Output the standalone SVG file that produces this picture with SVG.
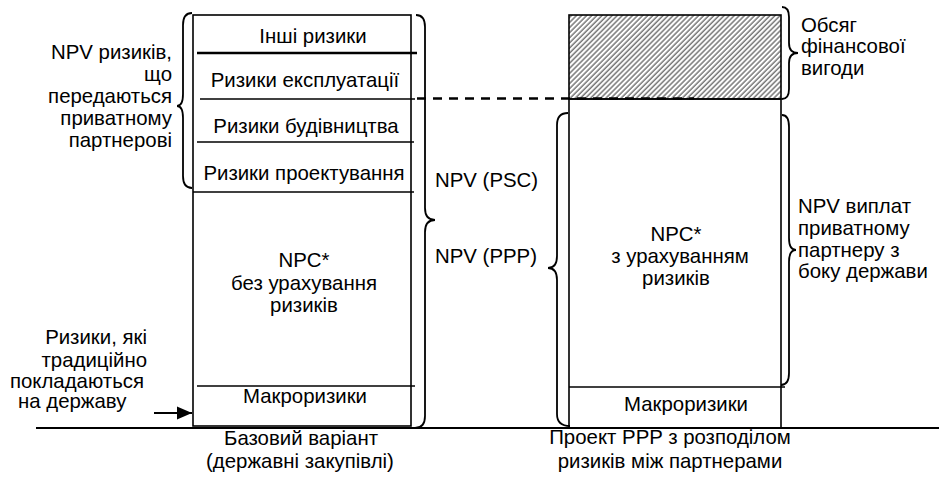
<svg xmlns="http://www.w3.org/2000/svg" width="939" height="491" viewBox="0 0 939 491">
<style>
text{font-family:"Liberation Sans",Arial,sans-serif;font-size:20.4px;fill:#000}
.c{text-anchor:middle}
.e{text-anchor:end}
.box{fill:none;stroke:#000;stroke-width:1.6}
.ln{stroke:#000;stroke-width:1.6;fill:none}
.brace{fill:none;stroke:#000;stroke-width:1.8}
</style>
<defs>
<pattern id="hatch" width="3.6" height="3.6" patternUnits="userSpaceOnUse" patternTransform="rotate(45)">
<rect width="3.6" height="3.6" fill="#fff"/>
<line x1="1" y1="0" x2="1" y2="3.6" stroke="#333" stroke-width="1"/>
</pattern>
<marker id="arr" markerWidth="15" markerHeight="14" refX="15" refY="7" orient="auto" markerUnits="userSpaceOnUse">
<path d="M0,0.5 L15,7 L0,13.5 Z" fill="#000"/>
</marker>
</defs>
<rect width="939" height="491" fill="#fff"/>

<g id="ground">
<line x1="36" y1="428" x2="939" y2="428" stroke="#000" stroke-width="2"/>
</g>

<g id="base-column">
<rect class="box" x="193" y="15" width="218" height="411"/>
<line x1="197" y1="53" x2="417" y2="53" stroke="#000" stroke-width="2.6"/>
<line class="ln" x1="200" y1="99" x2="415" y2="99"/>
<line class="ln" x1="197" y1="142" x2="414" y2="142"/>
<line class="ln" x1="193" y1="192" x2="414" y2="192"/>
<line class="ln" x1="197" y1="386" x2="415" y2="386"/>
<text class="c" x="313" y="43">Інші ризики</text>
<text class="c" x="305" y="87">Ризики експлуатації</text>
<text class="c" x="306" y="133">Ризики будівництва</text>
<text class="c" x="304" y="180">Ризики проектування</text>
<text class="c" x="304" y="267">NPC*</text>
<text class="c" x="304" y="290">без урахування</text>
<text class="c" x="304" y="312">ризиків</text>
<text class="c" x="305" y="403">Макроризики</text>
</g>

<g id="ppp-column">
<rect x="569" y="15" width="212" height="84" fill="url(#hatch)" stroke="#000" stroke-width="1.6"/>
<rect class="box" x="569" y="99" width="212" height="329"/>
<line class="ln" x1="569" y1="387" x2="785" y2="387"/>
<text class="c" x="676" y="241">NPC*</text>
<text class="c" x="680" y="263">з урахуванням</text>
<text class="c" x="676" y="285">ризиків</text>
<text class="c" x="686" y="411">Макроризики</text>
</g>

<g id="label-transferred">
<path class="brace" d="M192,13 Q183,13 183,25 V94 Q183,106 177,106 Q183,106 183,118 V176 Q183,188 192,188"/>
<text class="e" x="172" y="59">NPV ризиків,</text>
<text class="e" x="172" y="81">що</text>
<text class="e" x="172" y="103">передаються</text>
<text class="e" x="172" y="125">приватному</text>
<text class="e" x="172" y="147">партнерові</text>
</g>

<g id="label-psc-ppp">
<path class="brace" d="M416,15 Q425,15 425,27 V208 Q425,220 435,220 Q425,220 425,232 V416 Q425,428 415,428"/>
<text x="435" y="187">NPV (PSC)</text>
<text x="435" y="263">NPV (PPP)</text>
</g>

<g id="label-ppp-left">
<path class="brace" d="M568,113 Q557,113 557,125 V256 Q557,268 548,268 Q557,268 557,280 V414 Q557,426 570,426"/>
</g>

<g id="label-benefit">
<path class="brace" d="M782,7 Q789,7 789,17 V43 Q789,53 798,53 Q789,53 789,63 V89 Q789,99 782,99"/>
<text x="801" y="32">Обсяг</text>
<text x="801" y="53">фінансової</text>
<text x="801" y="75">вигоди</text>
</g>

<g id="label-payments">
<path class="brace" d="M782,115 Q789,115 789,127 V238 Q789,250 796,250 Q789,250 789,262 V373 Q789,385 781,385"/>
<text x="798" y="213">NPV виплат</text>
<text x="798" y="235">приватному</text>
<text x="798" y="257">партнеру з</text>
<text x="798" y="278">боку держави</text>
</g>

<g id="label-state-risks">
<text class="e" x="147" y="344">Ризики, які</text>
<text class="e" x="147" y="367">традиційно</text>
<text class="e" x="144" y="388">покладаються</text>
<text x="18" y="408">на державу</text>
</g>

<g id="caption-base">
<text class="c" x="301" y="445">Базовий варіант</text>
<text class="c" x="300" y="468">(державні закупівлі)</text>
</g>

<g id="caption-ppp">
<text class="c" x="670" y="444">Проект PPP з розподілом</text>
<text class="c" x="670" y="468">ризиків між партнерами</text>
</g>

<g id="connectors">
<line x1="417" y1="98.5" x2="694" y2="98.5" stroke="#000" stroke-width="2.6" stroke-dasharray="9 7"/>
<line x1="154" y1="413" x2="192" y2="413" stroke="#000" stroke-width="2.2" marker-end="url(#arr)"/>
</g>
</svg>
